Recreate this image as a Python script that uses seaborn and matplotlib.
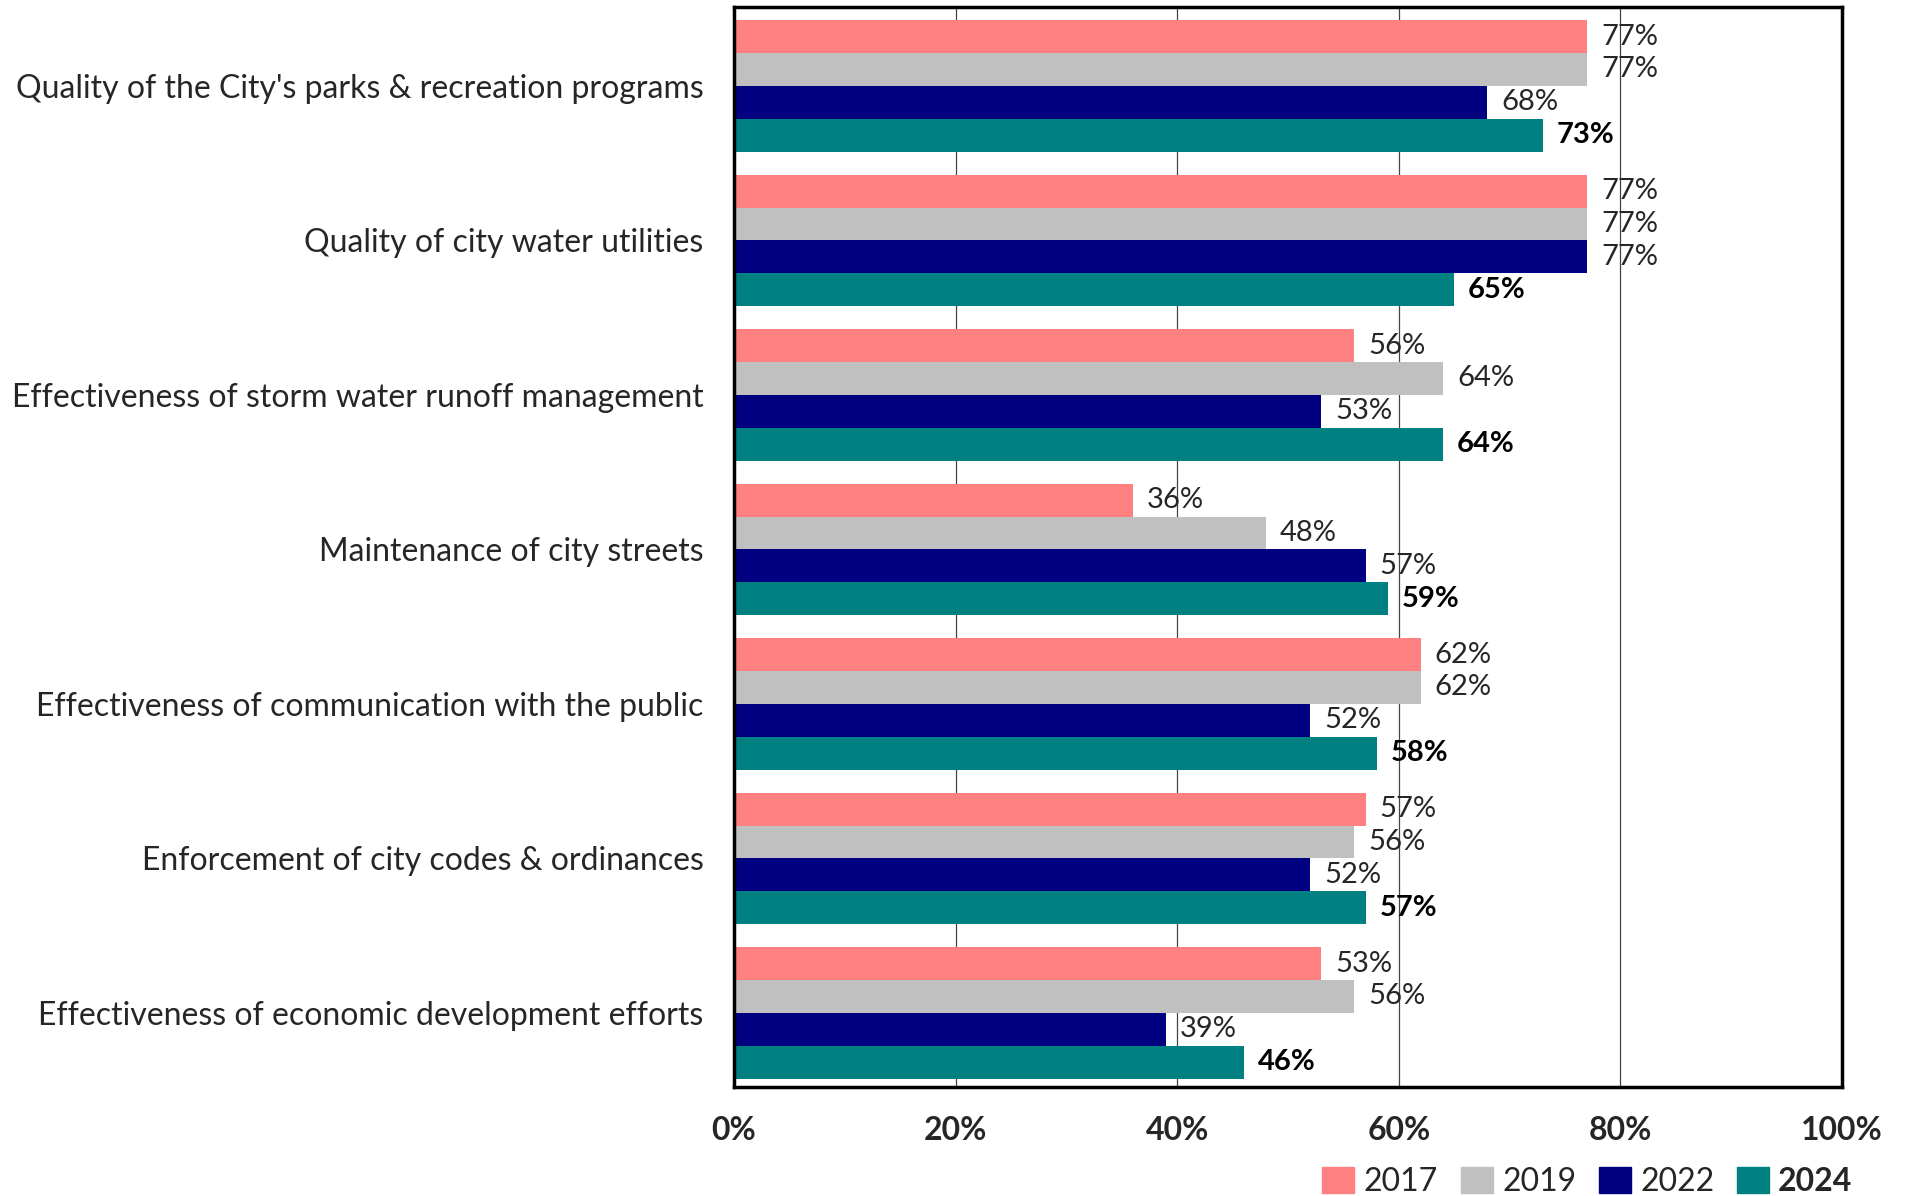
import numpy as np
import pandas as pd
import matplotlib
matplotlib.use("Agg")
import matplotlib.pyplot as plt
import seaborn as sns

# data
categories = ["Quality of the City's parks & recreation programs",
              "Quality of city water utilities",
              "Effectiveness of storm water runoff management",
              "Maintenance of city streets",
              "Effectiveness of communication with the public",
              "Enforcement of city codes & ordinances",
              "Effectiveness of economic development efforts"]
years = ["2017", "2019", "2022", "2024"]
v2017 = [77, 77, 56, 36, 62, 57, 53]
v2019 = [77, 77, 64, 48, 62, 56, 56]
v2022 = [68, 77, 53, 57, 52, 52, 39]
v2024 = [73, 65, 64, 59, 58, 57, 46]
colors = ["#FF8080", "#C0C0C0", "#000080", "#008080"]

rows = []
for yr, vals in zip(years, [v2017, v2019, v2022, v2024]):
    for c, v in zip(categories, vals):
        rows.append({"cat": c, "year": yr, "val": v / 100})
df = pd.DataFrame(rows)

sns.set_style("white")
plt.rcParams['font.family'] = ['Lato', 'DejaVu Sans']

fig = plt.figure(figsize=(19.08, 11.96), dpi=100)
ax = fig.add_axes([0.3847, 0.0911, 0.5807, 0.903])

sns.barplot(data=df, y="cat", x="val", hue="year", orient="h",
            palette=colors, width=0.85, saturation=1, ax=ax,
            order=categories, hue_order=years, zorder=3, linewidth=0)

# value labels
for i, cont in enumerate(ax.containers):
    labs = ["%d%%" % round(b.get_width() * 100) for b in cont]
    bold = (i == 3)
    ax.bar_label(cont, labels=labs, padding=10, fontsize=21,
                 fontweight="bold" if bold else "normal",
                 color="black" if bold else "#262626", zorder=5)

ax.set_xlim(0, 1)
ax.set_ylim(6.48, -0.51)
ax.set_xticks([0, 0.2, 0.4, 0.6, 0.8, 1.0])
ax.set_xticklabels(["0%", "20%", "40%", "60%", "80%", "100%"],
                   fontsize=23, fontweight="bold")
ax.tick_params(axis="x", length=0, pad=21)
ax.tick_params(axis="y", length=0, pad=22, labelsize=23)
ax.set_xlabel("")
ax.set_ylabel("")
for x in [0.2, 0.4, 0.6, 0.8]:
    ax.axvline(x, color="#444444", lw=0.9, zorder=1)
for s in ax.spines.values():
    s.set_visible(True)
    s.set_color("black")
    s.set_linewidth(2.5)
    s.set_zorder(6)

ax.get_legend().remove()
handles = [plt.Rectangle((0, 0), 1, 1, color=c) for c in colors]
leg = fig.legend(handles, years, loc="lower right", ncol=4, frameon=False,
                 bbox_to_anchor=(0.986, -0.025), fontsize=23,
                 handlelength=1.0, handleheight=0.9, handletextpad=0.3,
                 columnspacing=0.7)
leg.get_texts()[3].set_fontweight("bold")

fig.savefig("out.png", dpi=100)
